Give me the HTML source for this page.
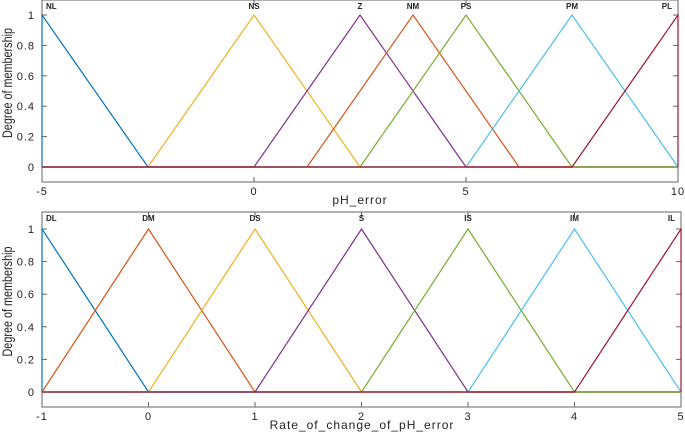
<!DOCTYPE html>
<html><head><meta charset="utf-8"><style>
body{margin:0;background:#fff;width:685px;height:434px;overflow:hidden}
svg text{font-family:"Liberation Sans",sans-serif}
</style></head><body>
<svg id="c" width="685" height="434" xmlns="http://www.w3.org/2000/svg"></svg>
<script>
const topNames=["NL","NS","Z","NM","PS","PM","PL"];
const topParams=[[-5,-5,-2.5],[-2.5,0,2.5],[0,2.5,5],[1.25,3.75,6.25],[2.5,5,7.5],[5,7.5,10],[7.5,10,10]];
const topColors=["#0072BD","#EDB120","#7E2F8E","#D95319","#77AC30","#4DBEEE","#A2142F"];
const topXTicks=[-5,0,5,10];
const botNames=["DL","DM","DS","S","IS","IM","IL"];
const botParams=[[-1,-1,0],[-1,0,1],[0,1,2],[1,2,3],[2,3,4],[3,4,5],[4,5,5]];
const botColors=["#0072BD","#D95319","#EDB120","#7E2F8E","#77AC30","#4DBEEE","#A2142F"];
const botXTicks=[-1,0,1,2,3,4,5];
const yTicks=[0,0.2,0.4,0.6,0.8,1];
const yTickLabels=["0","0.2","0.4","0.6","0.8","1"];
const svg=document.getElementById('c');
const NS="http://www.w3.org/2000/svg";
function mk(t,a,p){const e=document.createElementNS(NS,t);for(const k in a)e.setAttribute(k,a[k]);(p||svg).appendChild(e);return e;}
function panel(cfg){
  const g=mk('g',{});
  
  
  const xs=v=>cfg.L+(v-cfg.xmin)/(cfg.xmax-cfg.xmin)*(cfg.R-cfg.L);
  const ys=v=>cfg.y0+(cfg.y1-cfg.y0)*v;
  const box=mk('rect',{x:cfg.L,y:cfg.T,width:cfg.R-cfg.L,height:cfg.B-cfg.T,fill:'none',stroke:'#666','stroke-width':1},g);
  
  
  yTicks.forEach((v,i)=>{
    mk('line',{x1:cfg.L,x2:cfg.L+5,y1:ys(v),y2:ys(v),stroke:'#666'},g);
    mk('line',{x1:cfg.R,x2:cfg.R-5,y1:ys(v),y2:ys(v),stroke:'#666'},g);
    const t=mk('text',{x:cfg.L-7,y:ys(v)+4,'text-anchor':'end','font-size':11,'letter-spacing':1,fill:'#222'},g);t.textContent=yTickLabels[i];
    
    
  });
  cfg.xt.forEach(v=>{
    mk('line',{x1:xs(v),x2:xs(v),y1:cfg.B,y2:cfg.B-5,stroke:'#666'},g);
    mk('line',{x1:xs(v),x2:xs(v),y1:cfg.T,y2:cfg.T+5,stroke:'#666'},g);
    const t=mk('text',{x:xs(v),y:cfg.B+13,'text-anchor':'middle','font-size':11,'letter-spacing':1,fill:'#222'},g);t.textContent=String(v);
    
    
  });
  cfg.params.forEach((p,i)=>{
    const pts=[[cfg.xmin,0],[p[0],0],[p[1],1],[p[2],0],[cfg.xmax,0]].map(q=>xs(q[0])+','+ys(q[1])).join(' ');
    const l=mk('polyline',{points:pts,fill:'none',stroke:cfg.colors[i],'stroke-width':1.2},g);
    
    
    let lx=xs(p[1]);const anc=i==0?'start':(i==cfg.names.length-1?'end':'middle');
    if(i==0)lx+=4;if(i==cfg.names.length-1)lx-=6;
    const t=mk('text',{x:lx,y:cfg.T+9,'text-anchor':anc,'font-size':8,'font-weight':'bold',fill:'#222'},g);t.textContent=cfg.names[i];
    
    
  });
  const xt=mk('text',{x:cfg.xtx,y:cfg.B+22,'text-anchor':'middle','font-size':12,'letter-spacing':1,fill:'#222'},g);xt.textContent=cfg.xlabel;
  
  
  const cy=(cfg.T+cfg.B)/2-8;
  const yt=mk('text',{x:12,y:cy,'text-anchor':'middle','font-size':14,fill:'#222',transform:`rotate(-90 12 ${cy})`,textLength:110,lengthAdjust:'spacingAndGlyphs'},g);yt.textContent='Degree of membership';
  
  
}
panel({id:'ph-error-chart',L:42,R:678,T:0,B:182,y0:167,y1:15,xmin:-5,xmax:10,xt:topXTicks,params:topParams,colors:topColors,names:topNames,xlabel:'pH_error',xtx:360});
panel({id:'rate-of-change-chart',L:42,R:681,T:212,B:407,y0:392,y1:229,xmin:-1,xmax:5,xt:botXTicks,params:botParams,colors:botColors,names:botNames,xlabel:'Rate_of_change_of_pH_error',xtx:362});
</script>
</body></html>
